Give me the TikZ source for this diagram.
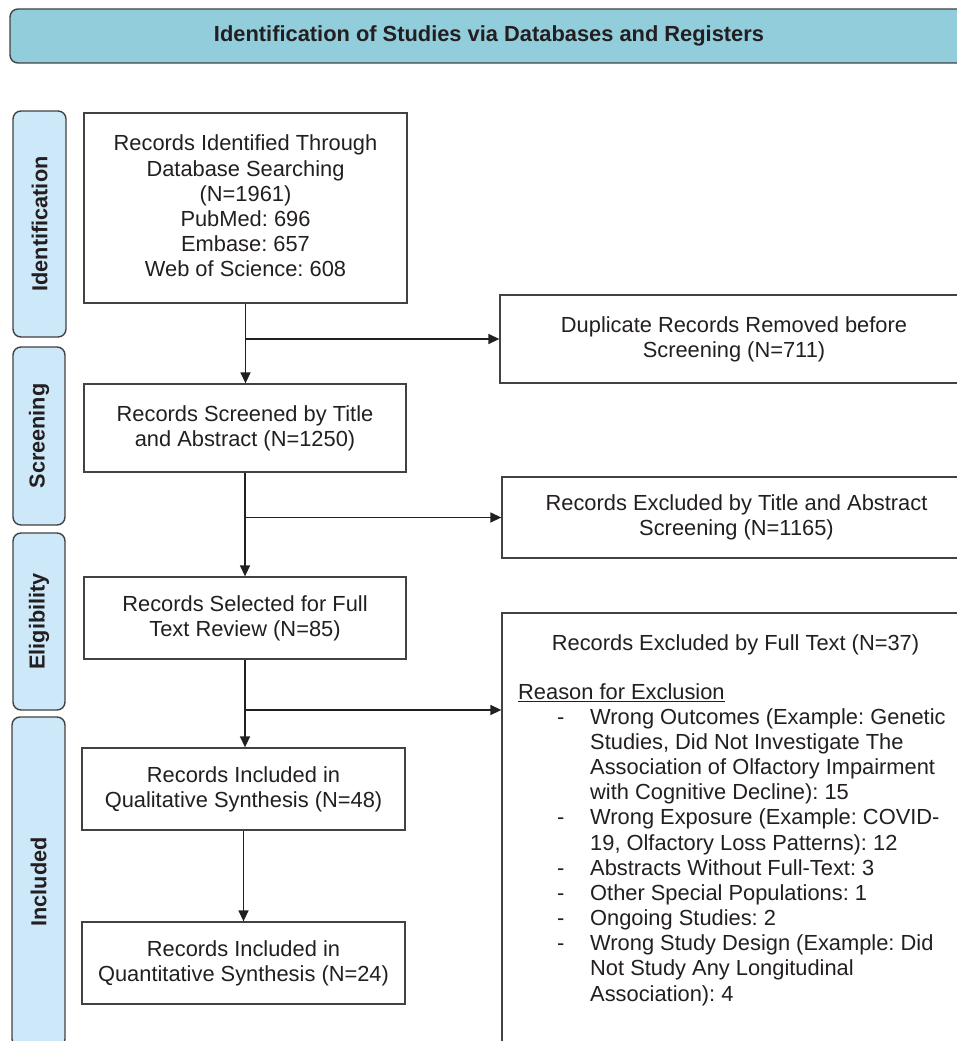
\documentclass[tikz,border=0pt]{standalone}
\usepackage{fontspec}
\setmainfont{Liberation Sans}
\usetikzlibrary{arrows.meta,calc}
\definecolor{bannerblue}{RGB}{146,205,220}
\definecolor{sideblue}{RGB}{205,233,249}
\definecolor{ink}{RGB}{35,31,32}
\newcommand\ritem{\hspace*{39pt}\makebox[33pt][l]{-}}
\newcommand\rcont{\hspace*{72pt}}
\frenchspacing
\begin{document}
\begin{tikzpicture}[x=1pt,y=-1pt,
  fs/.style={font=\fontsize{21.85}{25.15}\selectfont},
  box/.style={draw=ink!85, line width=1.3pt, fill=white, text=ink, align=center, fs, inner sep=0pt},
  phase/.style={draw=ink!85, line width=1.4pt, fill=sideblue, rounded corners=8pt, text=ink,
    font=\fontsize{21.7}{25}\selectfont\bfseries, inner sep=0pt, rotate=90},
  arr/.style={draw=ink, line width=1.4pt, -{Triangle[length=11pt,width=10pt]}},
  ln/.style={draw=ink, line width=1.4pt}]
\useasboundingbox (0,0) rectangle (957,1041);

% header
\node[draw=ink!85, line width=1.4pt, fill=bannerblue, rounded corners=8pt, text=ink,
  minimum width=958pt, minimum height=54pt, inner sep=0pt,
  font=\fontsize{21.85}{25}\selectfont\bfseries] (hdr) at (489,36)
  {Identification of Studies via Databases and Registers};

% phase labels
\node[phase, minimum width=226pt, minimum height=53pt] (p1) at (39.5,224) {Identification};
\node[phase, minimum width=178pt, minimum height=52pt] (p2) at (39,436) {Screening};
\node[phase, minimum width=177pt, minimum height=52pt] (p3) at (39,621.5) {Eligibility};
\node[phase, minimum width=330pt, minimum height=53pt] (p4) at (38.5,882) {Included};

% main boxes
\node[box, minimum width=323pt, minimum height=190pt] (b1) at (245.5,208)
  {Records Identified Through\\Database Searching\\(N=1961)\\PubMed: 696\\Embase: 657\\Web of Science: 608\vspace*{4pt}};
\node[box, minimum width=322pt, minimum height=88pt] (b2) at (245,428)
  {Records Screened by Title\\and Abstract (N=1250)};
\node[box, minimum width=322pt, minimum height=82pt] (b3) at (245,618)
  {Records Selected for Full\\Text Review (N=85)};
\node[box, minimum width=323pt, minimum height=82pt] (b4) at (243.5,789)
  {Records Included in\\Qualitative Synthesis (N=48)};
\node[box, minimum width=323pt, minimum height=82pt] (b5) at (243.5,963)
  {Records Included in\\Quantitative Synthesis (N=24)};

% right boxes
\node[box, minimum width=468pt, minimum height=88pt] (dup) at (734,339)
  {Duplicate Records Removed before\\Screening (N=711)};
\node[box, minimum width=469pt, minimum height=81pt] (ex1) at (736.5,517.5)
  {Records Excluded by Title and Abstract\\Screening (N=1165)};
\node[box, minimum width=467pt, minimum height=450pt] (ex2) at (735.5,838) {};
\node[fs, text=ink, anchor=base, inner sep=0pt] (ex2t) at (735.5,650)
  {Records Excluded by Full Text (N=37)};
\node[fs, text=ink, anchor=base west, align=left, inner sep=0pt] (ex2r) at (518,1001)
  {\underline{Reason for Exclusion}\\
   \ritem Wrong Outcomes (Example: Genetic\\
   \rcont Studies, Did Not Investigate The\\
   \rcont Association of Olfactory Impairment\\
   \rcont with Cognitive Decline): 15\\
   \ritem Wrong Exposure (Example: COVID-\\
   \rcont 19, Olfactory Loss Patterns): 12\\
   \ritem Abstracts Without Full-Text: 3\\
   \ritem Other Special Populations: 1\\
   \ritem Ongoing Studies: 2\\
   \ritem Wrong Study Design (Example: Did\\
   \rcont Not Study Any Longitudinal\\
   \rcont Association): 4};

% connectors
\coordinate (j1) at (b1.south |- dup.west);
\coordinate (j2) at (b2.south |- ex1.west);
\coordinate (j3) at (245,710);
\draw[arr] (b1.south) -- (b1.south |- b2.north);
\draw[arr] (j1) -- (dup.west);
\draw[arr] (b2.south) -- (b2.south |- b3.north);
\draw[arr] (j2) -- (j2 -| ex1.west);
\draw[arr] (b3.south) -- (b3.south |- b4.north);
\draw[arr] (j3) -- (j3 -| ex2.west);
\draw[arr] (b4.south) -- (b4.south |- b5.north);
\end{tikzpicture}
\end{document}
